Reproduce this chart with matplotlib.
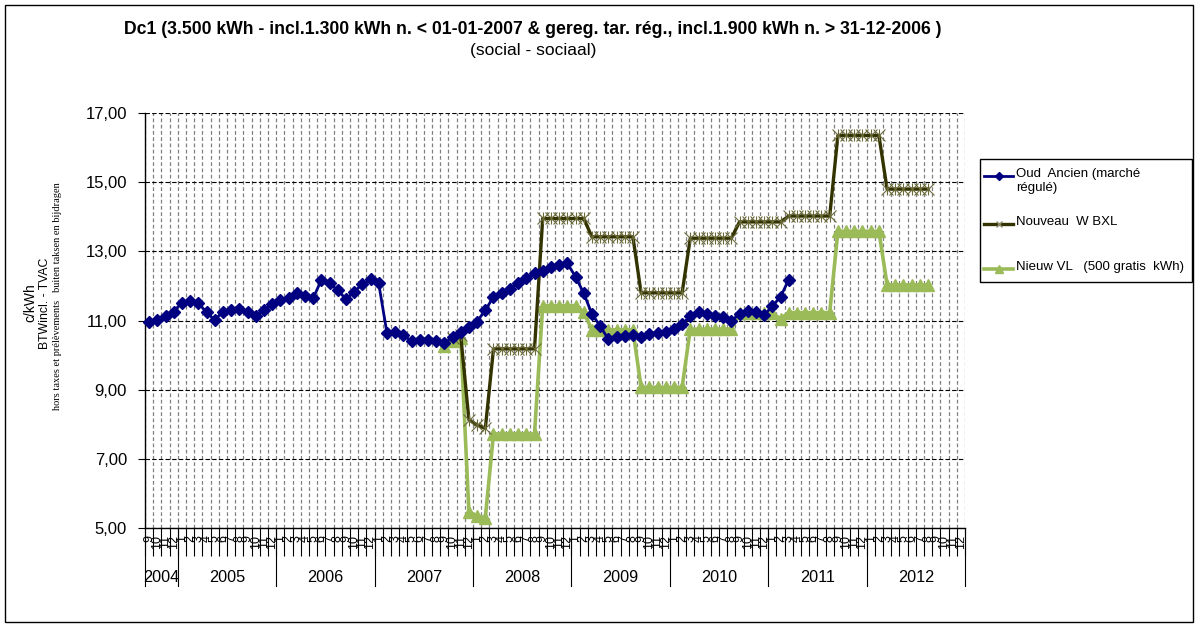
import numpy as np
import matplotlib
matplotlib.use('Agg')
import matplotlib.pyplot as plt
from matplotlib.lines import Line2D
from matplotlib.patches import Rectangle
from matplotlib import transforms

plt.rcParams['font.family'] = ['Liberation Sans', 'DejaVu Sans']

# category axis: Sep 2004 .. Dec 2012, one slot per month
years = ['2004', '2005', '2006', '2007', '2008', '2009', '2010', '2011', '2012']
first_months = ['9', '10', '11', '12']
full_year = ['1', '2', '3', '4', '5', '6', '7', '8', '9', '10', '11', '12']
month_labels = first_months + full_year * 8
year_len = [4, 12, 12, 12, 12, 12, 12, 12, 12]

# Oud Ancien (marche regule), from Sep 2004
oud = [10.95, 11.02, 11.14, 11.26,
       11.52, 11.56, 11.50, 11.24, 11.01, 11.26, 11.30, 11.32, 11.24, 11.13, 11.30, 11.47,
       11.59, 11.66, 11.79, 11.72, 11.64, 12.17, 12.07, 11.88, 11.62, 11.83, 12.05, 12.19,
       12.07, 10.65, 10.68, 10.58, 10.40, 10.43, 10.43, 10.40, 10.34, 10.52, 10.68, 10.82,
       10.97, 11.30, 11.68, 11.79, 11.92, 12.07, 12.22, 12.36, 12.44, 12.55, 12.60, 12.65,
       12.27, 11.79, 11.19, 10.84, 10.46, 10.52, 10.56, 10.58, 10.53, 10.60, 10.63, 10.68,
       10.74, 10.90, 11.12, 11.24, 11.19, 11.14, 11.10, 11.00, 11.18, 11.28, 11.24, 11.15,
       11.42, 11.68, 12.18]
oud_start = (2004, 9)

# Nouveau W BXL, from Oct 2007
nouveau = [10.50, 10.57, 8.13,
           7.98, 7.88, 10.18, 10.18, 10.18, 10.18, 10.18, 10.18, 13.95, 13.95, 13.95, 13.95,
           13.95, 13.95, 13.42, 13.42, 13.42, 13.42, 13.42, 13.42, 11.80, 11.80, 11.80, 11.80,
           11.80, 11.80, 13.38, 13.38, 13.38, 13.38, 13.38, 13.38, 13.85, 13.85, 13.85, 13.85,
           13.85, 13.85, 14.02, 14.02, 14.02, 14.02, 14.02, 14.02, 16.35, 16.35, 16.35, 16.35,
           16.35, 16.35, 14.80, 14.80, 14.80, 14.80, 14.80, 14.80]
nouveau_start = (2007, 10)

# Nieuw VL (500 gratis kWh), from Sep 2007
nieuw = [10.25, 10.40, 10.50, 5.47,
         5.35, 5.30, 7.72, 7.72, 7.72, 7.72, 7.72, 7.72, 11.43, 11.43, 11.43, 11.43,
         11.43, 11.25, 10.73, 10.73, 10.73, 10.73, 10.73, 10.73, 9.07, 9.07, 9.07, 9.07,
         9.07, 9.07, 10.75, 10.75, 10.75, 10.75, 10.75, 10.75, 11.22, 11.22, 11.22, 11.22,
         11.22, 11.05, 11.23, 11.23, 11.23, 11.23, 11.23, 11.23, 13.58, 13.58, 13.58, 13.58,
         13.58, 13.58, 12.03, 12.03, 12.03, 12.03, 12.03, 12.03]
nieuw_start = (2007, 9)

yticks = [5, 7, 9, 11, 13, 15, 17]


def slot(start):
    return (start[0] - 2004) * 12 + start[1] - 9


def xs(start, values):
    return np.arange(len(values)) + slot(start) + 0.5


W, H = 1198, 628
fig = plt.figure(figsize=(W / 100, H / 100), dpi=100)
ax = fig.add_axes([145 / W, 1 - 528 / H, 820 / W, 415 / H])

n = len(month_labels)
ax.set_xlim(0, n)
ax.set_ylim(5, 17)

ax.plot(xs(oud_start, oud), oud, color='#000080', lw=2, marker='D', ms=6.5,
        mfc='#000080', mec='#000080', zorder=5, clip_on=False)
ax.plot(xs(nouveau_start, nouveau), nouveau, color='#333300', lw=2.4, zorder=4)
ax.plot(xs(nouveau_start, nouveau), nouveau, ls='none', marker='x', ms=8.5,
        mew=0.8, color='#6b6b3a', zorder=4)
ax.plot(xs(nouveau_start, nouveau), nouveau, ls='none', marker='|', ms=8,
        mew=0.8, color='#6b6b3a', zorder=4)
ax.plot(xs(nieuw_start, nieuw), nieuw, color='#9BBB59', lw=2.6, marker='^', ms=8,
        mfc='#9BBB59', mec='#9BBB59', zorder=3)

# grid
ax.set_yticks(yticks)
ax.set_yticklabels([('%.2f' % v).replace('.', ',') for v in yticks])
ax.set_xticks(np.arange(n + 1))
ax.set_xticklabels([])
ax.set_xticks(np.arange(n) + 0.5, minor=True)
ax.set_xticklabels(month_labels, minor=True, rotation=90, fontsize=9)
ax.tick_params(axis='x', which='major', length=20, width=0.8, direction='out')
ax.tick_params(axis='x', which='minor', length=0, pad=5)
ax.tick_params(axis='y', length=5, width=0.8, labelsize=12, pad=8)
ax.grid(axis='x', which='major', color='#808080', ls=(0, (3, 2)), lw=0.9)
ax.grid(axis='y', color='black', ls=(0, (4, 2)), lw=0.8)
ax.set_axisbelow(True)
for s in ['top', 'right']:
    ax.spines[s].set_visible(False)
ax.spines['left'].set_linewidth(1)
ax.spines['bottom'].set_linewidth(1)

# year separators and labels
tr = transforms.blended_transform_factory(ax.transData, ax.transAxes)
edges = np.concatenate([[0], np.cumsum(year_len)])
for e in edges:
    ax.add_line(Line2D([e, e], [0, -58 / 415], transform=tr, color='black',
                       lw=0.8, clip_on=False))
for i, y in enumerate(years):
    ax.text((edges[i] + edges[i + 1]) / 2, -49 / 415, y, transform=tr,
            ha='center', va='center', fontsize=11.7)

# titles and axis caption
fig.text(533 / W, 1 - 30 / H,
         'Dc1 (3.500 kWh - incl.1.300 kWh n. < 01-01-2007 & gereg. tar. rég., incl.1.900 kWh n. > 31-12-2006 )',
         ha='center', va='center', fontsize=12.7, fontweight='bold')
fig.text(533 / W, 1 - 50 / H, '(social - sociaal)', ha='center', va='center', fontsize=12.5)
fig.text(30 / W, 1 - 303 / H, 'c/kWh', rotation=90, ha='center', va='center', fontsize=10)
fig.text(45 / W, 1 - 303 / H, 'BTWincl. - TVAC', rotation=90, ha='center', va='center', fontsize=8.8)
fig.text(57.5 / W, 1 - 296 / H, 'hors taxes et prélèvements   buiten taksen en bijdragen',
         rotation=90, ha='center', va='center', fontsize=7.5, family='Liberation Serif')


# legend, drawn in figure pixels
def fp(x, y):
    return x / W, 1 - y / H


x0, y0 = fp(980, 159)
x1, y1 = fp(1192, 282)
fig.patches.append(Rectangle((x0, y1), x1 - x0, y0 - y1, transform=fig.transFigure,
                             fill=False, ec='black', lw=1))
entries = [(176, 'Oud  Ancien (marché\nrégulé)', '#000080', 2, 'D', 4.5, '#000080'),
           (224, 'Nouveau  W BXL', '#333300', 2.4, 'x', 5, '#8a8a6a'),
           (269, 'Nieuw VL   (500 gratis  kWh)', '#9BBB59', 2.6, '^', 6, '#9BBB59')]
for yy, lab, col, lw, mk, ms, mec in entries:
    a, b = fp(984, yy)
    c, d = fp(1013, yy)
    fig.lines.append(Line2D([a, c], [b, d], transform=fig.transFigure, color=col, lw=lw))
    fig.lines.append(Line2D([(a + c) / 2], [b], transform=fig.transFigure, ls='none',
                            marker=mk, ms=ms, color=col, mec=mec))
    tx, ty = fp(1016, yy - 8)
    fig.text(tx, ty, lab, ha='left', va='top', fontsize=9.5, linespacing=1.2)

# chart border
fig.patches.append(Rectangle(fp(5, 622), (1193 - 5) / W, (622 - 5) / H,
                             transform=fig.transFigure, fill=False, ec='black', lw=1))

fig.savefig('out.png', dpi=100)
